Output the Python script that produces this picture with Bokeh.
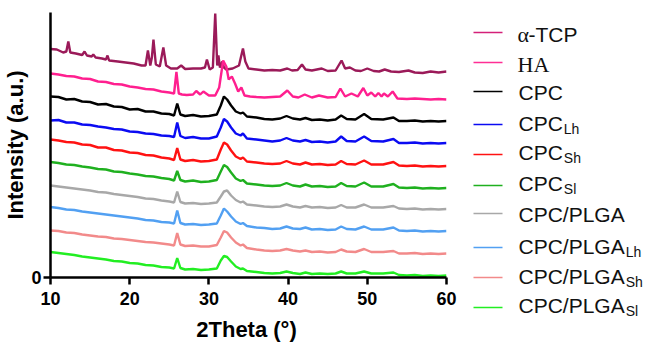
from bokeh.plotting import figure
from bokeh.models import Range1d, FixedTicker
from bokeh.layouts import row, column
from bokeh.embed import file_html
from bokeh.resources import INLINE
from bokeh.core.properties import value

# ---------------- data (y in arbitrary stacked units) ----------------
X_TICKS = [10, 20, 30, 40, 50, 60]
Y_TICKS = [0]

X_ATCP = [10, 10.8, 11.6, 12.0, 12.25, 12.5, 13.2, 14.0, 14.3, 14.6,
          15.2, 15.4, 15.7, 16.5, 17.0, 17.2, 17.4, 18.5, 19.5, 20.5,
          21.5, 22.0, 22.3, 22.6, 22.8, 23.0, 23.3, 23.8, 24.25, 24.6,
          25.2, 26.0, 26.5, 27.0, 28.0, 29.0, 29.5, 29.75, 30.1, 30.5,
          30.8, 31.05, 31.2, 31.4, 31.7, 31.9, 32.2, 33.0, 33.8, 34.3,
          34.6, 35.0, 36.0, 37.0, 38.0, 39.0, 39.9, 40.5, 41.2, 41.75,
          42.2, 43.0, 44.25, 45.0, 46.0, 46.75, 47.2, 47.8, 48.5, 49.2,
          50.0, 50.8, 51.5, 52.2, 53.0, 54.0, 55.2, 56.0, 57.0, 58.0,
          59.0, 60.0]
Y_ATCP = [228.5, 228, 225, 226, 236, 225, 224, 222.5, 226, 222,
          221, 223, 220, 219, 218, 222, 217, 216, 215, 214,
          212, 212, 227, 212, 220, 238, 213, 211, 230, 212,
          209, 209, 212, 208.5, 209, 209, 210, 218, 208, 210,
          264, 212, 222, 210, 216, 210, 208, 209, 212, 229,
          216, 209, 208, 207, 207.5, 207, 209, 207, 207.5, 213,
          208, 207, 209, 206.5, 207, 217, 209, 210, 207, 206.5,
          209, 206.5, 206, 208, 206, 205.5, 207, 205, 204.5, 206,
          205, 206]

X_HA = [10, 11, 12, 13, 14, 15, 16, 17, 18, 19,
        20, 21, 22, 23, 24, 25, 25.6, 25.9, 26.2, 26.6,
        27.2, 28.0, 28.4, 28.9, 29.3, 30.0, 30.8, 31.3, 31.8, 32.2,
        32.5, 32.9, 33.3, 33.7, 34.1, 34.5, 35.2, 36.0, 37.0, 38.0,
        39.0, 39.9, 40.6, 41.3, 42.1, 43.0, 43.9, 45.0, 46.0, 46.6,
        47.2, 48.0, 48.8, 49.5, 50.0, 50.5, 51.0, 51.4, 51.8, 52.1,
        52.6, 53.2, 53.8, 55.0, 56.0, 57.0, 58.0, 59.0, 60.0]
Y_HA = [204, 203, 201.5, 201, 199, 198.5, 196, 195.5, 193.5, 193,
        191, 190, 188.5, 188, 186, 185, 184, 205.5, 184, 183,
        182.5, 183, 186.5, 183, 186, 182, 182, 190, 217, 211,
        198, 201, 194, 186, 190, 182, 181, 180.5, 180, 180.5,
        181, 187, 181, 180, 183, 180, 182, 180, 180.5, 189,
        181, 184, 181, 189.5, 182, 185, 181, 184.5, 181, 184,
        181, 186, 179, 178.5, 179, 178.5, 178, 178.5, 178]

# common 2-theta grid of the eight cement patterns
X_CPC = [10, 11, 12, 13, 14, 15, 16, 17, 18, 19, 20, 21, 22, 23, 24, 25,
         25.6, 26.0, 26.4,
         27, 28, 29, 30, 31,
         31.5, 31.9, 32.3, 32.8, 33.4, 34.0, 34.3, 34.8,
         36, 37, 38, 39,
         39.8, 40.6, 41.5, 42.2,
         43, 44, 45, 46,
         46.7, 47.4, 48.5, 49.6, 50.5,
         52, 53.3,
         54, 55, 56, 57, 58, 59, 60]

Y_CPC = [181, 180.5, 178, 178.5, 176, 175.5, 173, 173.5, 171, 170.5, 168, 168.5, 166, 166, 164, 163.5,
         162, 174, 163,
         161.5, 162.5, 161, 161.5, 163,
         172, 181, 178, 172, 166, 164, 165, 161,
         160, 158.5, 158, 159,
         161.5, 159, 158, 159.5,
         157.5, 158, 157, 158,
         162, 158.5, 158, 163.5, 158.5,
         158, 160,
         156.5, 156.5, 157, 156, 156.5, 156, 156.5]

Y_CPC_LH = [157, 157.5, 155, 155, 153, 152.5, 151, 150, 148.5, 148, 146, 145.5, 144, 143.5, 142, 141.5,
            140.5, 155, 141.5,
            139.5, 140.5, 139, 139, 141,
            150, 158.5, 156, 150, 144, 142, 144, 139,
            138, 137, 136, 137,
            139.5, 137, 136, 137.5,
            135.5, 136, 135, 136,
            141, 136.5, 136, 141, 136.5,
            136, 138.5,
            134.5, 134.5, 135, 134, 134.5, 134, 134.5]

Y_CPC_SH = [138, 137, 135.5, 135, 133, 132.5, 130, 130, 127.5, 127, 125, 124.5, 122.5, 122, 120, 119,
            117.5, 129.5, 118,
            116.5, 117.5, 116, 116.5, 118,
            128, 135, 133, 127, 121, 118.5, 120, 116,
            115, 114, 113.5, 114,
            116.5, 114, 113, 115,
            113, 113.5, 112.5, 113,
            116.5, 113.5, 113, 117, 113,
            113, 115.5,
            112, 111.5, 112, 111, 111.5, 111, 111.5]

Y_CPC_SL = [115.5, 114.5, 113, 112.5, 111, 110, 108.5, 108, 106, 105.5, 104, 103, 101.5, 101, 99.5, 98.5,
            97, 106.5, 97.5,
            96, 97, 95.5, 96, 97.5,
            106, 112.5, 110.5, 105, 99, 96.5, 97.5, 94,
            93, 92, 91.5, 92,
            94.5, 92, 91, 93,
            91, 91.5, 90.5, 91,
            94.5, 91.5, 91, 95, 91,
            91, 93.5,
            90, 89.5, 90, 89, 89.5, 89, 89.5]

Y_PLGA = [92, 91, 90, 89, 88, 87, 85.5, 85, 83.5, 82.5, 81.5, 80.5, 79, 78.5, 77, 76,
          75, 86, 75.5,
          74, 74.5, 73.5, 74, 75,
          81, 86, 87, 82, 77.5, 75, 76, 73,
          72, 71, 70.5, 71,
          73, 71, 70, 71.5,
          70, 70.5, 69.5, 70,
          72.5, 70, 70, 73, 70,
          70, 71.5,
          69, 68.5, 69, 68, 68.5, 68, 68.5]

Y_PLGA_LH = [70.5, 69.5, 68, 67.5, 66, 65, 64, 63, 62, 61, 60, 59, 57.5, 57, 55.5, 55,
             54, 67, 54.5,
             53, 53.5, 52.5, 53, 54,
             62, 69, 66, 61, 56, 53.5, 54.5, 51.5,
             50, 49.5, 48.5, 49,
             51, 49, 48.5, 50,
             48, 48.5, 47.5, 48,
             51, 48.5, 48, 51, 48,
             48, 50,
             47, 46.5, 47, 46, 46.5, 46, 46.5]

Y_PLGA_SH = [47, 46.5, 45, 44.5, 43, 42, 41, 40.5, 39, 38.5, 37.5, 36.5, 35.5, 35, 34, 33,
             32, 44.5, 33,
             31.5, 32, 31, 31, 32.5,
             40, 46.5, 45, 40, 35, 32, 33, 29.5,
             28, 27, 26.5, 27,
             28.5, 27, 26, 27,
             25.5, 26, 25, 25.5,
             28, 26, 25.5, 28.5, 25.5,
             25.5, 26.5,
             24, 24, 24.5, 23.5, 24, 23.5, 24]

Y_PLGA_SL = [25.5, 24.5, 23.5, 22.5, 21, 20, 19, 18, 16.5, 16, 14.5, 14, 12.5, 12, 10.5, 10,
             9, 19.5, 9.5,
             8, 8.5, 7.5, 8, 9,
             17, 21.5, 20.5, 16, 11, 8.5, 9, 6.5,
             5.5, 4.5, 4, 4.5,
             6, 4.5, 3.5, 5,
             3.5, 4, 3.5, 4,
             6, 4, 4, 6, 4,
             4, 5,
             2.5, 2, 2.5, 1.5, 2, 1.5, 2]

NAMES = ["α-TCP", "HA", "CPC", "CPC", "CPC", "CPC",
         "CPC/PLGA", "CPC/PLGA", "CPC/PLGA", "CPC/PLGA"]
SUBS = ["", "", "", "Lh", "Sh", "Sl", "", "Lh", "Sh", "Sl"]
COLORS = ["#9B1A59", "#FF1F8F", "#000000", "#0B0BF2", "#FF1212", "#1FB01F",
          "#A8A8A8", "#52A0F2", "#F28A8A", "#22EE22"]
LEGEND_COLORS = ["#D42079", "#FF2E95", "#000000", "#0B0BF2", "#FF1212", "#1FB01F",
                 "#A8A8A8", "#52A0F2", "#F28A8A", "#22EE22"]
X_TITLE = "2Theta (°)"
Y_TITLE = "Intensity (a.u.)"

SERIES = [(X_ATCP, Y_ATCP), (X_HA, Y_HA), (X_CPC, Y_CPC), (X_CPC, Y_CPC_LH),
          (X_CPC, Y_CPC_SH), (X_CPC, Y_CPC_SL), (X_CPC, Y_PLGA), (X_CPC, Y_PLGA_LH),
          (X_CPC, Y_PLGA_SH), (X_CPC, Y_PLGA_SL)]

TEXT_DY = -7   # shift from the intended baseline to Bokeh's text anchor

# ---------------- main plot ----------------
p = figure(width=470, height=316, x_range=Range1d(10, 60), y_range=Range1d(0, 265),
           output_backend="svg", toolbar_location=None,
           min_border_left=46, min_border_right=24, min_border_top=12, min_border_bottom=39)
p.frame_align = False
p.outline_line_color = None
p.grid.visible = False
p.background_fill_color = "white"
p.border_fill_color = "white"

for (xs, ys), c in zip(SERIES, COLORS):
    p.line(xs, ys, line_color=c, line_width=2.4)

for ax, ticks in ((p.xaxis[0], X_TICKS), (p.yaxis[0], Y_TICKS)):
    ax.ticker = FixedTicker(ticks=ticks)
    ax.axis_line_width = 2.5
    ax.axis_line_color = "black"
    ax.major_tick_line_width = 2.5
    ax.major_tick_line_color = "black"
    ax.major_tick_out = 7
    ax.major_tick_in = 0
    ax.minor_tick_out = 0
    ax.minor_tick_in = 0
    ax.major_label_text_font = "Liberation Sans"
    ax.major_label_text_font_style = "bold"
    ax.major_label_text_font_size = "18px"
    ax.major_label_text_color = "black"
    ax.axis_label_text_font = "Liberation Sans"
    ax.axis_label_text_font_style = "bold"
    ax.axis_label_text_font_size = "22px"
    ax.axis_label_text_color = "black"

p.xaxis[0].major_label_standoff = 7
p.yaxis[0].major_label_standoff = 2
p.yaxis[0].axis_label = Y_TITLE
p.yaxis[0].axis_label_standoff = 0

# ---------------- x-axis title strip (coordinates = picture pixels) ----------------
xl = figure(width=470, height=26, x_range=Range1d(0, 470), y_range=Range1d(342, 316),
            output_backend="svg", toolbar_location=None, min_border=0,
            x_axis_location=None, y_axis_location=None)
xl.frame_align = False
xl.outline_line_color = None
xl.grid.visible = False
xl.text(x=[246], y=[336 + TEXT_DY], text=[X_TITLE], text_font=value("Liberation Sans"),
        text_font_style="bold", text_font_size=value("22px"), text_align="center",
        text_baseline="alphabetic", text_color="black")

# ---------------- legend panel (coordinates = picture pixels) ----------------
lg = figure(width=182, height=342, x_range=Range1d(470, 652), y_range=Range1d(342, 0),
            output_backend="svg", toolbar_location=None, min_border=0,
            x_axis_location=None, y_axis_location=None)
lg.frame_align = False
lg.outline_line_color = None
lg.grid.visible = False

LINE_Y = [32, 62, 91, 124, 154, 185, 213, 247, 277, 307]
BASE_Y = [41, 71, 99, 130, 159, 190, 221, 253, 283, 312]
lg.segment(x0=[473] * 10, x1=[502] * 10, y0=LINE_Y, y1=LINE_Y,
           line_color=LEGEND_COLORS, line_width=1.6)

ARIAL = {'C': 0.722, 'P': 0.667, '/': 0.278, 'L': 0.556, 'G': 0.778, 'A': 0.667,
         '-': 0.333, 'T': 0.611, 'h': 0.556, 'S': 0.667, 'l': 0.222}
FS = 21
TX = 518

sans_x, sans_y, sans_t = [], [], []
sub_x, sub_y, sub_t = [], [], []
for name, sub, by in zip(NAMES, SUBS, BASE_Y):
    ty = by + TEXT_DY
    if name == "α-TCP":
        lg.text(x=[TX - 1], y=[ty], text=["α"], text_font=value("Liberation Serif"),
                text_font_size=value("22px"), text_baseline="alphabetic", text_color="#111111")
        sans_x.append(TX + 10); sans_y.append(ty); sans_t.append("-TCP")
    elif name == "HA":
        lg.text(x=[TX - 1], y=[ty], text=["HA"], text_font=value("Liberation Serif"),
                text_font_size=value("22px"), text_baseline="alphabetic", text_color="#111111")
    else:
        sans_x.append(TX); sans_y.append(ty); sans_t.append(name)
        if sub:
            w = sum(ARIAL[ch] for ch in name) * FS
            sub_x.append(TX + w + 1); sub_y.append(ty + 5); sub_t.append(sub)

lg.text(x=sans_x, y=sans_y, text=sans_t, text_font=value("Liberation Sans"),
        text_font_size=value(f"{FS}px"), text_baseline="alphabetic", text_color="#111111")
lg.text(x=sub_x, y=sub_y, text=sub_t, text_font=value("Liberation Sans"),
        text_font_size=value("14px"), text_baseline="alphabetic", text_color="#111111")

layout = row(column(p, xl, spacing=0), lg, spacing=0)
open("out.html", "w").write(file_html(layout, INLINE))
